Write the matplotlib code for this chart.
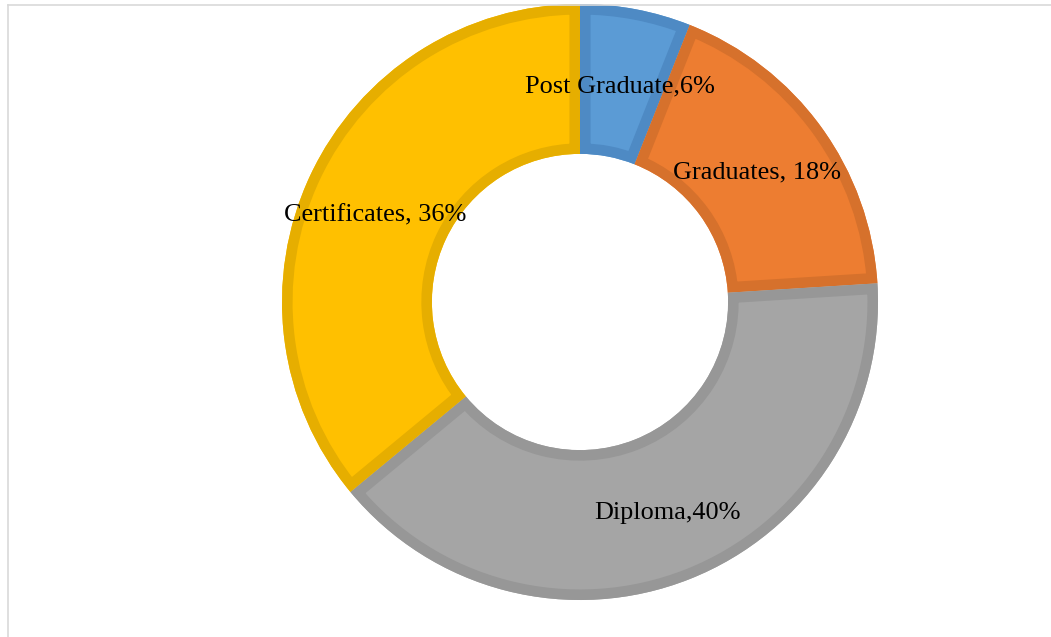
import matplotlib.pyplot as plt
from matplotlib.lines import Line2D
from matplotlib.patches import PathPatch

# education level shares (%)
names = ["Post Graduate", "Graduates", "Diploma", "Certificates"]
seps = [",", ", ", ",", ", "]
values = [6, 18, 40, 36]

fills = ["#5B9BD5", "#ED7D31", "#A5A5A5", "#FFC000"]
edges = ["#4E8AC4", "#D6712C", "#979797", "#E6AE00"]

# label anchor points, in axes data units (radius 1 = axes half width)
label_xy = [(0.133, 0.717), (0.59, 0.433), (0.293, -0.703), (-0.683, 0.29)]

fig = plt.figure(figsize=(10.51, 6.37), dpi=100)
ax = fig.add_axes([280 / 1051, 1 - 602 / 637, 600 / 1051, 600 / 637])

R = 298 / 300
wedges, _ = ax.pie(values, radius=R, startangle=90, counterclock=False,
                   colors=fills, wedgeprops=dict(width=R * 0.503, linewidth=0))

# darker border kept inside each slice: stroke the outline, clip to the slice
for w, ec in zip(wedges, edges):
    path = w.get_path()
    tr = w.get_transform()
    border = PathPatch(path, transform=tr, facecolor="none", edgecolor=ec,
                       linewidth=15.2, joinstyle="miter")
    ax.add_patch(border)
    border.set_clip_path(path, tr)

for name, sep, v, (x, y) in zip(names, seps, values, label_xy):
    ax.text(x, y, f"{name}{sep}{v}%", ha="center", va="center",
            family="Liberation Serif", fontsize=18.9, color="black")

ax.set_xlim(-1, 1)
ax.set_ylim(-1, 1)
ax.set_aspect("equal")
ax.axis("off")

# light chart-area border along top and left
fig.add_artist(Line2D([7.5 / 1051, 7.5 / 1051], [0, 1 - 4.5 / 637],
                      transform=fig.transFigure, color="#d9d9d9", lw=1.2))
fig.add_artist(Line2D([7.5 / 1051, 1], [1 - 4.5 / 637, 1 - 4.5 / 637],
                      transform=fig.transFigure, color="#d9d9d9", lw=1.2))

fig.savefig("out.png", dpi=100)
